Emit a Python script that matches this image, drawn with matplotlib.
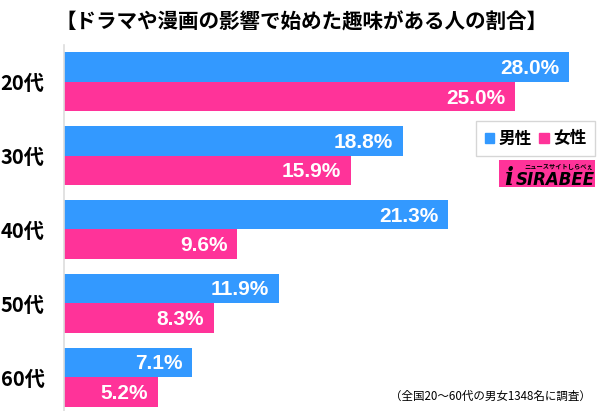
import matplotlib.pyplot as plt
from matplotlib.patches import Patch, Rectangle

plt.rcParams['font.family'] = ['Noto Sans CJK JP', 'DejaVu Sans']

# data
title = "【ドラマや漫画の影響で始めた趣味がある人の割合】"
categories = ["20代", "30代", "40代", "50代", "60代"]
male = [28.0, 18.8, 21.3, 11.9, 7.1]
female = [25.0, 15.9, 9.6, 8.3, 5.2]
note = "（全国20～60代の男女1348名に調査）"

blue = "#3399ff"
pink = "#ff3399"

fig = plt.figure(figsize=(6, 4.11), dpi=100)
ax = fig.add_axes([64 / 600, 0, 536 / 600, 366 / 411])

pos = list(range(len(categories)))
h = 0.40
ax.barh([p - h / 2 for p in pos], male, height=h, color=blue)
ax.barh([p + h / 2 for p in pos], female, height=h, color=pink)

lab = dict(color="white", fontsize=15, fontweight="bold", ha="right",
           va="center", family="Liberation Sans")
for p, m, f in zip(pos, male, female):
    ax.text(m - 0.55, p - h / 2 + 0.02, f"{m:.1f}%", **lab)
    ax.text(f - 0.55, p + h / 2 + 0.02, f"{f:.1f}%", **lab)

ax.set_xlim(0, 29.7)
ax.set_ylim(4.46, -0.50)
ax.set_yticks(pos)
ax.set_yticklabels(categories, fontsize=14.5, fontweight="bold")
ax.tick_params(axis="y", length=0, pad=14)
ax.set_xticks([])
for s in ["top", "right", "bottom"]:
    ax.spines[s].set_visible(False)
ax.spines["left"].set_color("#dddddd")
ax.spines["left"].set_linewidth(1.2)

fig.text(0.502, 1 - 22 / 411, title, ha="center", va="center",
         fontsize=14.8, fontweight="bold")

leg = ax.legend(handles=[Patch(color=blue, label="男性"), Patch(color=pink, label="女性")],
                loc="upper right", bbox_to_anchor=(0.991, 0.792), ncol=2,
                handlelength=0.55, handleheight=0.55, handletextpad=0.3,
                columnspacing=0.45, fancybox=False, edgecolor="#cccccc",
                borderpad=0.5, borderaxespad=0, prop={"weight": "bold", "size": 12})

# logo
fig.add_artist(Rectangle((499 / 600, 1 - 187 / 411), 96 / 600, 27 / 411,
                         transform=fig.transFigure, fc=pink, ec="none"))
fig.text(504 / 600, 1 - 178 / 411, "i", ha="left", va="center",
         fontsize=17, fontweight="bold", style="italic", color="black",
         family="DejaVu Serif")
fig.text(595 / 600, 1 - 180 / 411, "SIRABEE", ha="right", va="center",
         fontsize=12, fontweight="bold", style="italic", color="black",
         family="DejaVu Sans")
fig.text(593 / 600, 1 - 166 / 411, "ニュースサイトしらべぇ", ha="right", va="center",
         fontsize=4.5, fontweight="bold", color="black")

fig.text(0.985, 1 - 396 / 411, note, ha="right", va="center", fontsize=8.3)

fig.savefig("out.png")
